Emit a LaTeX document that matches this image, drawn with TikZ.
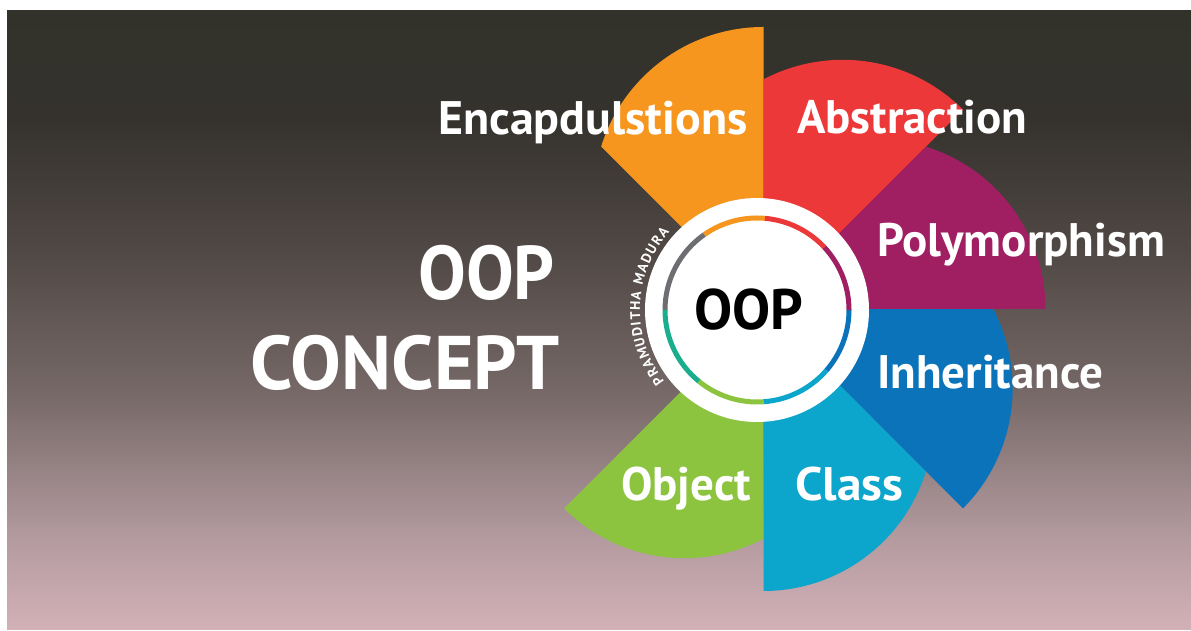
\documentclass[tikz,border=0pt]{standalone}
\usepackage{fontspec}
\newfontfamily\dinfont{PT Sans}
\usetikzlibrary{calc,decorations.text}
\definecolor{bgA}{RGB}{50,50,42}
\definecolor{bgB}{RGB}{53,50,45}
\definecolor{bgC}{RGB}{80,72,68}
\definecolor{bgD}{RGB}{117,104,102}
\definecolor{bgE}{RGB}{180,155,160}
\definecolor{bgF}{RGB}{210,177,183}
\definecolor{cOrange}{RGB}{246,150,30}
\definecolor{cRed}{RGB}{236,56,56}
\definecolor{cPurple}{RGB}{160,30,98}
\definecolor{cBlue}{RGB}{10,115,185}
\definecolor{cCyan}{RGB}{12,165,204}
\definecolor{cGreen}{RGB}{140,196,64}
\definecolor{cTeal}{RGB}{27,174,140}
\definecolor{cGray}{RGB}{109,110,113}
\pgfdeclareverticalshading{bgshade}{100bp}{color(0bp)=(bgF); color(25bp)=(bgF); color(32.27bp)=(bgE); color(44.39bp)=(bgD); color(55.69bp)=(bgC); color(66.2bp)=(bgB); color(75bp)=(bgA); color(100bp)=(bgA)}
\newcommand\mypetal[2]{\fill[#2] (P) -- ($(P)+(#1:282)$) arc[start angle=#1, delta angle=72.76, radius=170] -- cycle;}
\newcommand\myring[3]{\draw[ringseg, #3] ($(W)+(#1:92)$) arc[start angle=#1, end angle=#2, radius=92];}
\newcommand\tk{\hspace{1.3pt}}
\newcommand\wg{\hspace{6pt}}
\begin{document}
\begin{tikzpicture}[x=1pt,y=1pt,
  lab/.style={text=white, font=\dinfont\bfseries\fontsize{47}{47}\selectfont, inner sep=0pt},
  big/.style={text=white, font=\dinfont\bfseries\fontsize{76}{76}\selectfont, inner sep=0pt},
  ringseg/.style={line width=5pt}]
\useasboundingbox (0,0) rectangle (1191,631);
\fill[white] (0,0) rectangle (1191,631);
\shade[shading=bgshade] (7,1) rectangle (1191,620);
\coordinate (P) at (763.5,322);
\coordinate (W) at (757,321);
\mypetal{90}{cOrange}
\mypetal{45}{cRed}
\mypetal{0}{cPurple}
\mypetal{-45}{cBlue}
\mypetal{-90}{cCyan}
\mypetal{-135}{cGreen}
\fill[white] (W) circle[radius=112];
\myring{85}{125}{cOrange}
\myring{125}{180}{cGray}
\myring{180}{231}{cTeal}
\myring{231}{274}{cGreen}
\myring{274}{319}{cCyan}
\myring{319}{360}{cBlue}
\myring{0}{43}{cPurple}
\myring{43}{85}{cRed}
\node[lab, anchor=base west] (enc) at (438,496) {\scalebox{1.02}[1]{Encapdulstions}};
\node[lab, anchor=base west] (abs) at (797,497) {Abstraction};
\node[lab, anchor=base west] (poly) at (877,374) {Polymorphism};
\node[lab, anchor=base west] (inh) at (877,242) {Inheritance};
\node[lab, anchor=base west] (obj) at (621,130) {Object};
\node[lab, anchor=base west] (cls) at (795,130) {\scalebox{1.05}[1]{Class}};
\node[big, anchor=base east] (oop1) at (555,331) {\scalebox{0.94}[1]{OOP}};
\node[big, anchor=base east] (concept) at (560,241) {CONCEPT};
\node[inner sep=0pt, anchor=base, font=\dinfont\bfseries\fontsize{57}{57}\selectfont] (oop2) at (748.5,301) {OOP};
\coordinate (sigstart) at ($(W)+(226:117)$);
\path[decorate, decoration={text along path, text color=white, text align=center,
  text={|\dinfont\bfseries\fontsize{14}{14}\selectfont|P{\tk}R{\tk}A{\tk}M{\tk}U{\tk}D{\tk}I{\tk}T{\tk}H{\tk}A{\wg}M{\tk}A{\tk}D{\tk}U{\tk}R{\tk}A}}]
  (sigstart) arc[start angle=226, end angle=130, radius=117];
\end{tikzpicture}
\end{document}
